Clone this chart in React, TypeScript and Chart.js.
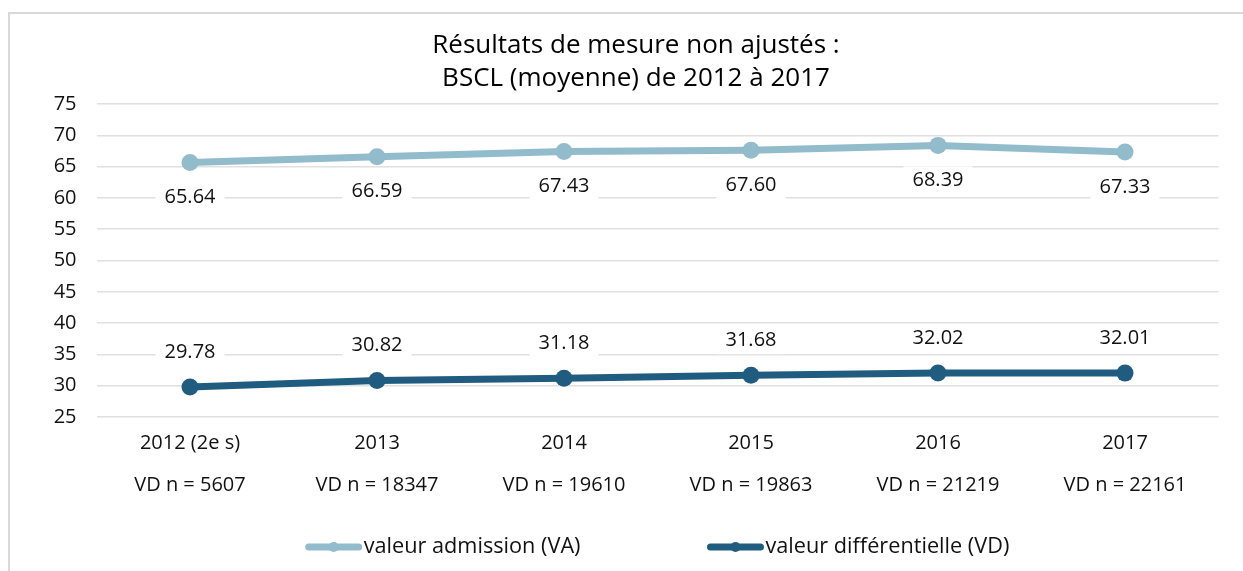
import React, { useEffect, useRef } from "react";
import { Chart, registerables } from "chart.js";

Chart.register(...registerables);

const categories = ["2012 (2e s)", "2013", "2014", "2015", "2016", "2017"];
const vdCounts = [5607, 18347, 19610, 19863, 21219, 22161];
const vaValues = [65.64, 66.59, 67.43, 67.6, 68.39, 67.33];
const vdValues = [29.78, 30.82, 31.18, 31.68, 32.02, 32.01];
const titleLines = ["Résultats de mesure non ajustés :", "BSCL (moyenne) de 2012 à 2017"];
const seriesNames = ["valeur admission (VA)", "valeur différentielle (VD)"];

const FONT = "'Segoe UI', 'Open Sans', sans-serif";
const VA_COLOR = "#92BBCB";
const VD_COLOR = "#1F5C80";

const borderPlugin = {
  id: "outerBorder",
  beforeDraw(chart: any) {
    const ctx = chart.ctx;
    ctx.save();
    ctx.fillStyle = "#fff";
    ctx.fillRect(0, 0, chart.width, chart.height);
    ctx.strokeStyle = "#d9d9d9";
    ctx.lineWidth = 2;
    ctx.strokeRect(9, 13, chart.width + 50, chart.height + 50);
    ctx.restore();
  },
};

const labelPlugin = {
  id: "valueLabels",
  afterDatasetsDraw(chart: any) {
    const ctx = chart.ctx;
    ctx.save();
    ctx.font = `20px ${FONT}`;
    ctx.textAlign = "center";
    ctx.textBaseline = "middle";
    chart.data.datasets.forEach((ds: any, di: number) => {
      const meta = chart.getDatasetMeta(di);
      const offset = di === 0 ? 35 : -35;
      meta.data.forEach((pt: any, i: number) => {
        const txt = Number(ds.data[i]).toFixed(2);
        const w = ctx.measureText(txt).width + 18;
        const h = 28;
        const x = pt.x;
        const y = pt.y + offset;
        ctx.fillStyle = "#fff";
        ctx.fillRect(x - w / 2, y - h / 2, w, h);
        ctx.fillStyle = "#111";
        ctx.fillText(txt, x, y);
      });
    });
    ctx.restore();
  },
};

const legendPlugin = {
  id: "customLegend",
  afterDraw(chart: any) {
    const ctx = chart.ctx;
    const area = chart.chartArea;
    ctx.save();
    ctx.font = `21.7px ${FONT}`;
    ctx.textBaseline = "middle";
    ctx.textAlign = "left";
    const sample = 56;
    const gap = 2;
    const spacing = 127;
    const colors = [VA_COLOR, VD_COLOR];
    const widths = seriesNames.map((n) => ctx.measureText(n).width);
    const total = sample * 2 + gap * 2 + widths[0] + widths[1] + spacing;
    let x = (area.left + area.right) / 2 - total / 2;
    const y = 547;
    seriesNames.forEach((name, i) => {
      ctx.strokeStyle = colors[i];
      ctx.lineWidth = 7;
      ctx.lineCap = "round";
      ctx.beginPath();
      ctx.moveTo(x + 3, y);
      ctx.lineTo(x + sample - 3, y);
      ctx.stroke();
      ctx.fillStyle = colors[i];
      ctx.beginPath();
      ctx.arc(x + sample / 2, y, 5, 0, Math.PI * 2);
      ctx.fill();
      ctx.fillStyle = "#111";
      ctx.fillText(name, x + sample + gap, y);
      x += sample + gap + widths[i] + spacing;
    });
    ctx.restore();
  },
};

export default function App() {
  const ref = useRef<HTMLCanvasElement | null>(null);
  useEffect(() => {
    if (!ref.current) return;
    const chart = new Chart(ref.current, {
      type: "line",
      data: {
        labels: categories.map((c, i) => [c, `VD n = ${vdCounts[i]}`]),
        datasets: [
          {
            label: seriesNames[0],
            data: vaValues,
            borderColor: VA_COLOR,
            backgroundColor: VA_COLOR,
            borderWidth: 7,
            pointRadius: 8.5,
            pointBorderWidth: 0,
            pointBackgroundColor: VA_COLOR,
            tension: 0,
          },
          {
            label: seriesNames[1],
            data: vdValues,
            borderColor: VD_COLOR,
            backgroundColor: VD_COLOR,
            borderWidth: 7,
            pointRadius: 8.5,
            pointBorderWidth: 0,
            pointBackgroundColor: VD_COLOR,
            tension: 0,
          },
        ],
      },
      options: {
        responsive: false,
        animation: false,
        layout: { padding: { left: 53.5, right: 24.5, top: 0, bottom: 60 } },
        plugins: {
          legend: { display: false },
          tooltip: { enabled: false },
          title: {
            display: true,
            text: titleLines,
            color: "#000",
            font: { family: FONT, size: 26, weight: "500", lineHeight: 33 / 26 },
            padding: { top: 29, bottom: 9 },
          },
        },
        scales: {
          x: {
            offset: true,
            grid: { display: false, drawTicks: false },
            border: { display: false },
            ticks: {
              color: "#111",
              padding: 5,
              maxRotation: 0,
              autoSkip: false,
              font: { family: FONT, size: 20, lineHeight: 42 / 20 },
            },
          },
          y: {
            min: 25,
            max: 75,
            grid: { color: "#e0e0e0", lineWidth: 1.5, drawTicks: false },
            border: { display: false },
            ticks: {
              stepSize: 5,
              color: "#111",
              padding: 20,
              font: { family: FONT, size: 20 },
            },
            afterFit(scale: any) {
              scale.width = 43;
            },
          },
        },
      },
      plugins: [borderPlugin, labelPlugin, legendPlugin],
    });
    return () => chart.destroy();
  }, []);
  return (
    <div style={{ position: "absolute", left: 0, top: 0, width: 1243, height: 571, overflow: "hidden" }}>
      <canvas ref={ref} width={1243} height={571} style={{ display: "block" }} />
    </div>
  );
}
